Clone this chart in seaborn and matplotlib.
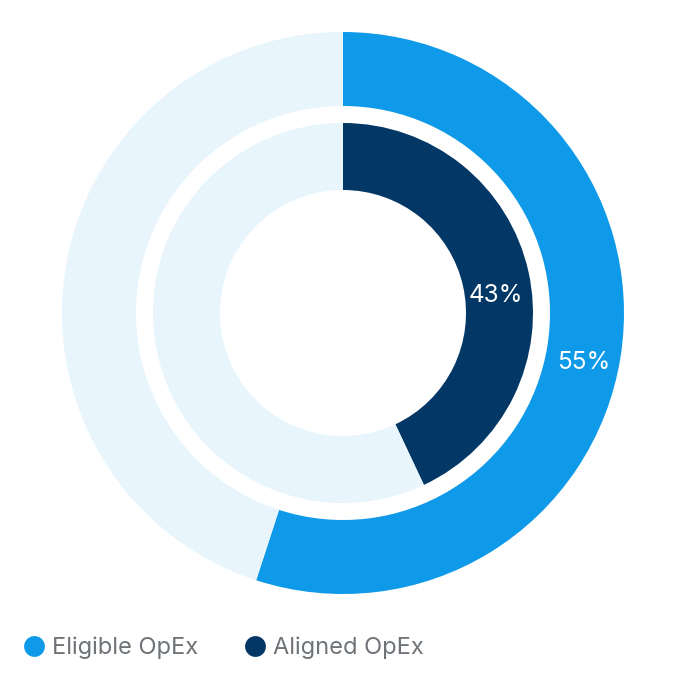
import matplotlib
matplotlib.use("Agg")
import matplotlib.pyplot as plt
import seaborn as sns
import numpy as np
from matplotlib.lines import Line2D

# Data
series = ["Eligible OpEx", "Aligned OpEx"]
values = [55, 43]          # percent share
labels = ["55%", "43%"]
colors = ["#0F9AE9", "#033766"]
rest_color = "#E8F5FD"

sns.set_theme(style="white")
plt.rcParams['font.family'] = ['Inter', 'DejaVu Sans']

W = 686
fig = plt.figure(figsize=(6.86, 6.86), dpi=100)
ax = fig.add_axes([0, 0, 1, 1])

cx, cy = 343, W - 313
rings = [(281, 207), (190, 123)]  # outer radius, inner radius
label_drop = [11, 17]

for (r_out, r_in), v, c, lab, dy in zip(rings, values, colors, labels, label_drop):
    ax.pie([v, 100 - v], colors=[c, rest_color], startangle=90,
           counterclock=False, radius=r_out, center=(cx, cy),
           wedgeprops=dict(width=r_out - r_in, linewidth=0),
           frame=True)
    ang = np.deg2rad(90 - 360 * v / 200)
    rm = (r_out + r_in) / 2
    ax.text(cx + rm * np.cos(ang), cy + rm * np.sin(ang) - dy, lab,
            color="white", fontsize=17.5, ha="center", va="center")

ax.set_xlim(0, W)
ax.set_ylim(0, W)
ax.set_aspect("equal")
ax.axis("off")

handles = [Line2D([], [], marker="o", linestyle="", markersize=15,
                  markerfacecolor=c, markeredgewidth=0) for c in colors]
leg = ax.legend(handles, series, loc="center left", bbox_to_anchor=(22 / W, 1 - 648 / W),
                bbox_transform=fig.transFigure, ncol=2, frameon=False,
                fontsize=17, labelcolor="#6E7378", handletextpad=0.28,
                columnspacing=1.9, handlelength=1.0, borderpad=0, borderaxespad=0)

fig.savefig("out.png", dpi=100, facecolor="white")
